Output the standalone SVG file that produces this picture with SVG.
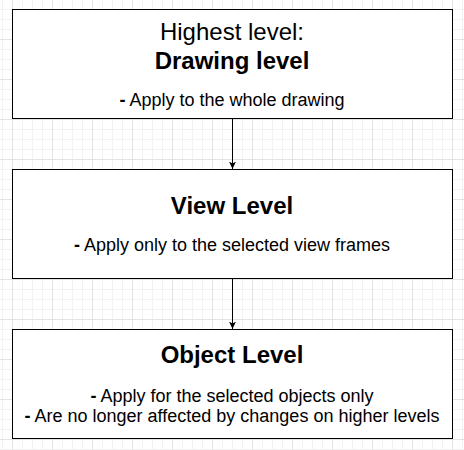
<svg xmlns="http://www.w3.org/2000/svg" width="464" height="450" viewBox="0 0 464 450">
  <style>
    .box { fill: #ffffff; stroke: #000000; stroke-width: 1; }
    .title { font-family: "Liberation Sans", Arial, Helvetica, sans-serif; font-size: 24px; fill: #000000; text-anchor: middle; }
    .bold { font-weight: bold; }
    .body { font-family: "Liberation Sans", Arial, Helvetica, sans-serif; font-size: 18px; fill: #000000; text-anchor: middle; }
    .edge { stroke: #000000; stroke-width: 1; fill: none; marker-end: url(#arrow); }
  </style>
  <defs>
    <pattern id="grid" patternUnits="userSpaceOnUse" x="12" y="-1" width="40" height="40">
      <path d="M10.5,0 V40 M20.5,0 V40 M30.5,0 V40 M0,10.5 H40 M0,20.5 H40 M0,30.5 H40" stroke="#f2f2f2" stroke-width="1" fill="none"/>
      <path d="M0.5,0 V40 M0,0.5 H40" stroke="#e3e3e3" stroke-width="1" fill="none"/>
    </pattern>
    <marker id="arrow" markerUnits="userSpaceOnUse" markerWidth="8" markerHeight="8" viewBox="0 0 8 8" refX="7.5" refY="3.5" orient="auto">
      <path d="M7.5,3.5 L0,0 L2,3.5 L0,7 Z" fill="#000000"/>
    </marker>
  </defs>
  <rect x="0" y="0" width="464" height="450" fill="#ffffff"/>
  <rect x="0" y="0" width="464" height="450" fill="url(#grid)"/>

  <g id="connectors">
    <path class="edge" d="M232.5,118.5 V169"/>
    <path class="edge" d="M232.5,278.5 V329"/>
  </g>

  <g id="drawing-level">
    <rect class="box" x="12.5" y="9.5" width="440" height="109"/>
    <text class="title" x="232" y="40">Highest level:</text>
    <text class="title bold" x="232" y="68.5">Drawing level</text>
    <text class="body" x="232" y="106"><tspan font-weight="bold">-</tspan> Apply to the whole drawing</text>
  </g>

  <g id="view-level">
    <rect class="box" x="12.5" y="169.5" width="440" height="109"/>
    <text class="title bold" x="232" y="214">View Level</text>
    <text class="body" x="232" y="250.5"><tspan font-weight="bold">-</tspan> Apply only to the selected view frames</text>
  </g>

  <g id="object-level">
    <rect class="box" x="12.5" y="329.5" width="440" height="109"/>
    <text class="title bold" x="232" y="362.5">Object Level</text>
    <text class="body" x="232" y="402"><tspan font-weight="bold">-</tspan> Apply for the selected objects only</text>
    <text class="body" x="232" y="421.7"><tspan font-weight="bold">-</tspan> Are no longer affected by changes on higher levels</text>
  </g>
</svg>
